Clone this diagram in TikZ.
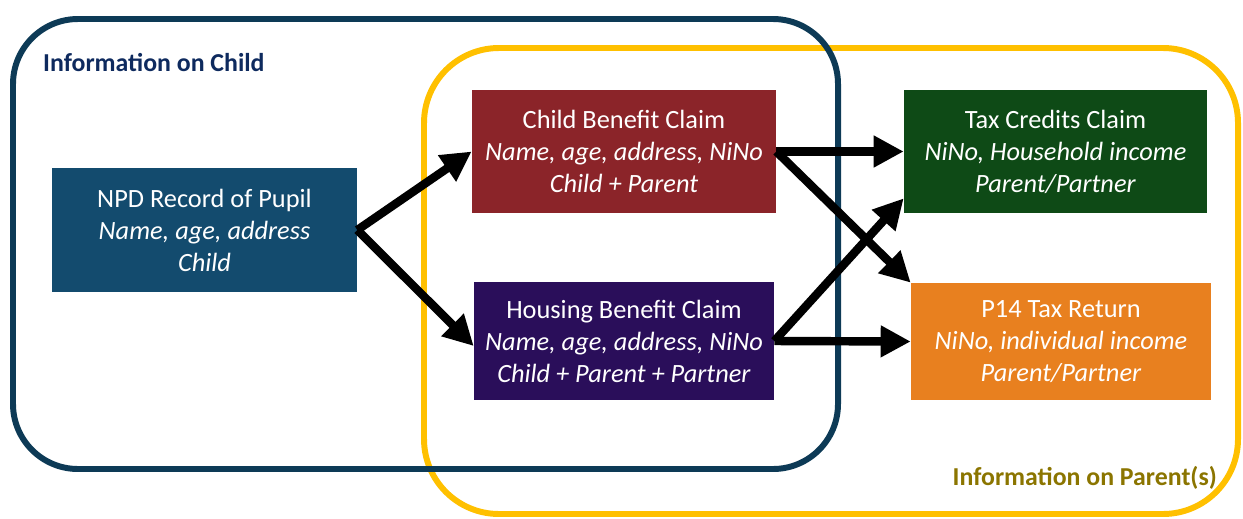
\documentclass[tikz,border=0pt]{standalone}
\usepackage{fontspec}
\setmainfont{Carlito}
\usetikzlibrary{arrows.meta}
\definecolor{childblue}{HTML}{0D3A56}
\definecolor{childtext}{HTML}{0E2A5E}
\definecolor{parentyellow}{HTML}{FFC000}
\definecolor{parenttext}{HTML}{8B7500}
\definecolor{npdblue}{HTML}{134B6E}
\definecolor{cbred}{HTML}{8B2429}
\definecolor{hbpurple}{HTML}{2A0E5A}
\definecolor{tcgreen}{HTML}{0E4A16}
\definecolor{ptorange}{HTML}{E8801F}
\begin{document}
\begin{tikzpicture}[x=0.02cm,y=-0.02cm,
  record/.style={text=white,align=center,inner sep=0pt,
    minimum width=6cm,minimum height=2.44cm,
    font=\fontsize{15}{18.2}\selectfont},
  flow/.style={line width=4.8pt,-{Triangle[length=0.6cm,width=0.6cm]}}]
\useasboundingbox (0,0) rectangle (1243,518);
% Groups
\draw[parentyellow,line width=3.4pt,rounded corners=1.5cm] (424,48) rectangle (1238,514);
\draw[childblue,line width=3.4pt,rounded corners=1.3cm] (13,19) rectangle (838,469);
\node[anchor=west,text=childtext,font=\fontsize{14.7}{16}\selectfont\bfseries] (childlbl) at (37,63) {Information on Child};
\node[anchor=east,text=parenttext,font=\fontsize{14.7}{16}\selectfont\bfseries] (parentlbl) at (1223,478) {Information on Parent(s)};
% Records
\node[record,fill=npdblue,minimum width=6.1cm,minimum height=2.48cm] (npd) at (204.5,230)
  {NPD Record of Pupil\\\textit{Name, age, address}\\\textit{Child}};
\node[record,fill=cbred,minimum width=6.08cm,minimum height=2.46cm] (cb) at (624,151.5)
  {Child Benefit Claim\\\textit{Name, age, address, NiNo}\\\textit{Child + Parent}};
\node[record,fill=hbpurple,minimum height=2.36cm] (hb) at (624,341)
  {Housing Benefit Claim\\\textit{Name, age, address, NiNo}\\\textit{Child + Parent + Partner}};
\node[record,fill=tcgreen,minimum width=6.06cm,minimum height=2.46cm] (tc) at (1055.5,151.5)
  {Tax Credits Claim\\\textit{NiNo, Household income}\\\textit{Parent/Partner}};
\node[record,fill=ptorange,minimum height=2.34cm] (pt) at (1061,341.5)
  {P14 Tax Return\\\textit{NiNo, individual income}\\\textit{Parent/Partner}};
% Links
\draw[flow] (npd.east) -- (cb.west);
\draw[flow] (npd.east) -- ([yshift=-0.1cm]hb.west);
\draw[flow] (cb.east) -- (tc.west);
\draw[flow] (cb.east) -- (pt.north west);
\draw[flow] (hb.east) -- ([yshift=0.3cm]tc.south west);
\draw[flow] (hb.east) -- (pt.west);
\end{tikzpicture}
\end{document}
